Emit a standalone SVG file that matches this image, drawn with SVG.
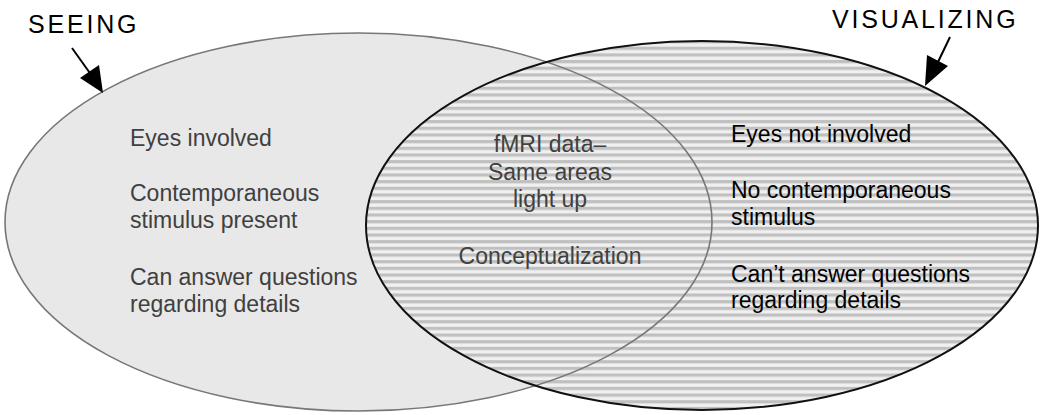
<svg xmlns="http://www.w3.org/2000/svg" width="1040" height="415" viewBox="0 0 1040 415">
<defs>
<pattern id="stripes" patternUnits="userSpaceOnUse" x="0" y="0" width="8" height="6.67">
<rect x="0" y="0" width="8" height="6.67" fill="#f0f0f0"/>
<rect x="0" y="0" width="8" height="3.2" fill="#c0c0c0"/>
</pattern>
<style>
.t{font-family:"Liberation Sans",Arial,Helvetica,sans-serif;font-size:23px}
.title{font-family:"Liberation Sans",Arial,Helvetica,sans-serif;font-size:25px;fill:#000;letter-spacing:2.8px}
.gray{fill:#404040}
.blk{fill:#000}
.arrow{stroke:#000;stroke-width:2;fill:none}
.head{fill:#000}
</style>
</defs>
<rect width="1040" height="415" fill="#fff"/>
<g id="seeing">
<ellipse cx="358.5" cy="222" rx="353.5" ry="189" fill="#e8e8e8"/>
</g>
<g id="visualizing">
<ellipse cx="702" cy="225.5" rx="336" ry="184.5" fill="url(#stripes)"/>
</g>
<ellipse cx="358.5" cy="222" rx="353.5" ry="189" fill="none" stroke="#777" stroke-width="1.6"/>
<ellipse cx="702" cy="225.5" rx="336" ry="184.5" fill="none" stroke="#111" stroke-width="2"/>
<g id="connectors">
<line class="arrow" x1="72" y1="48" x2="92" y2="76"/>
<path class="head" d="M103,93 L80,78 L99,65 Z"/>
<line class="arrow" x1="950" y1="37" x2="938" y2="62"/>
<path class="head" d="M925,86 L927,55 L948,66 Z"/>
</g>
<g id="label-seeing">
<text class="title" x="28" y="33">SEEING</text>
</g>
<g id="label-visualizing">
<text class="title" x="832" y="28">VISUALIZING</text>
</g>
<g id="seeing-text">
<text class="t gray" x="130" y="146">Eyes involved</text>
<text class="t gray" x="130" y="201">Contemporaneous</text>
<text class="t gray" x="130" y="228">stimulus present</text>
<text class="t gray" x="130" y="285">Can answer questions</text>
<text class="t gray" x="130" y="312">regarding details</text>
</g>
<g id="overlap-text">
<text class="t gray" x="550" y="152" text-anchor="middle">fMRI data–</text>
<text class="t gray" x="550" y="180" text-anchor="middle">Same areas</text>
<text class="t gray" x="550" y="207" text-anchor="middle">light up</text>
<text class="t gray" x="550" y="264" text-anchor="middle">Conceptualization</text>
</g>
<g id="visualizing-text">
<text class="t blk" x="731" y="142">Eyes not involved</text>
<text class="t blk" x="731" y="198">No contemporaneous</text>
<text class="t blk" x="731" y="225">stimulus</text>
<text class="t blk" x="731" y="282">Can’t answer questions</text>
<text class="t blk" x="731" y="308">regarding details</text>
</g>
</svg>
